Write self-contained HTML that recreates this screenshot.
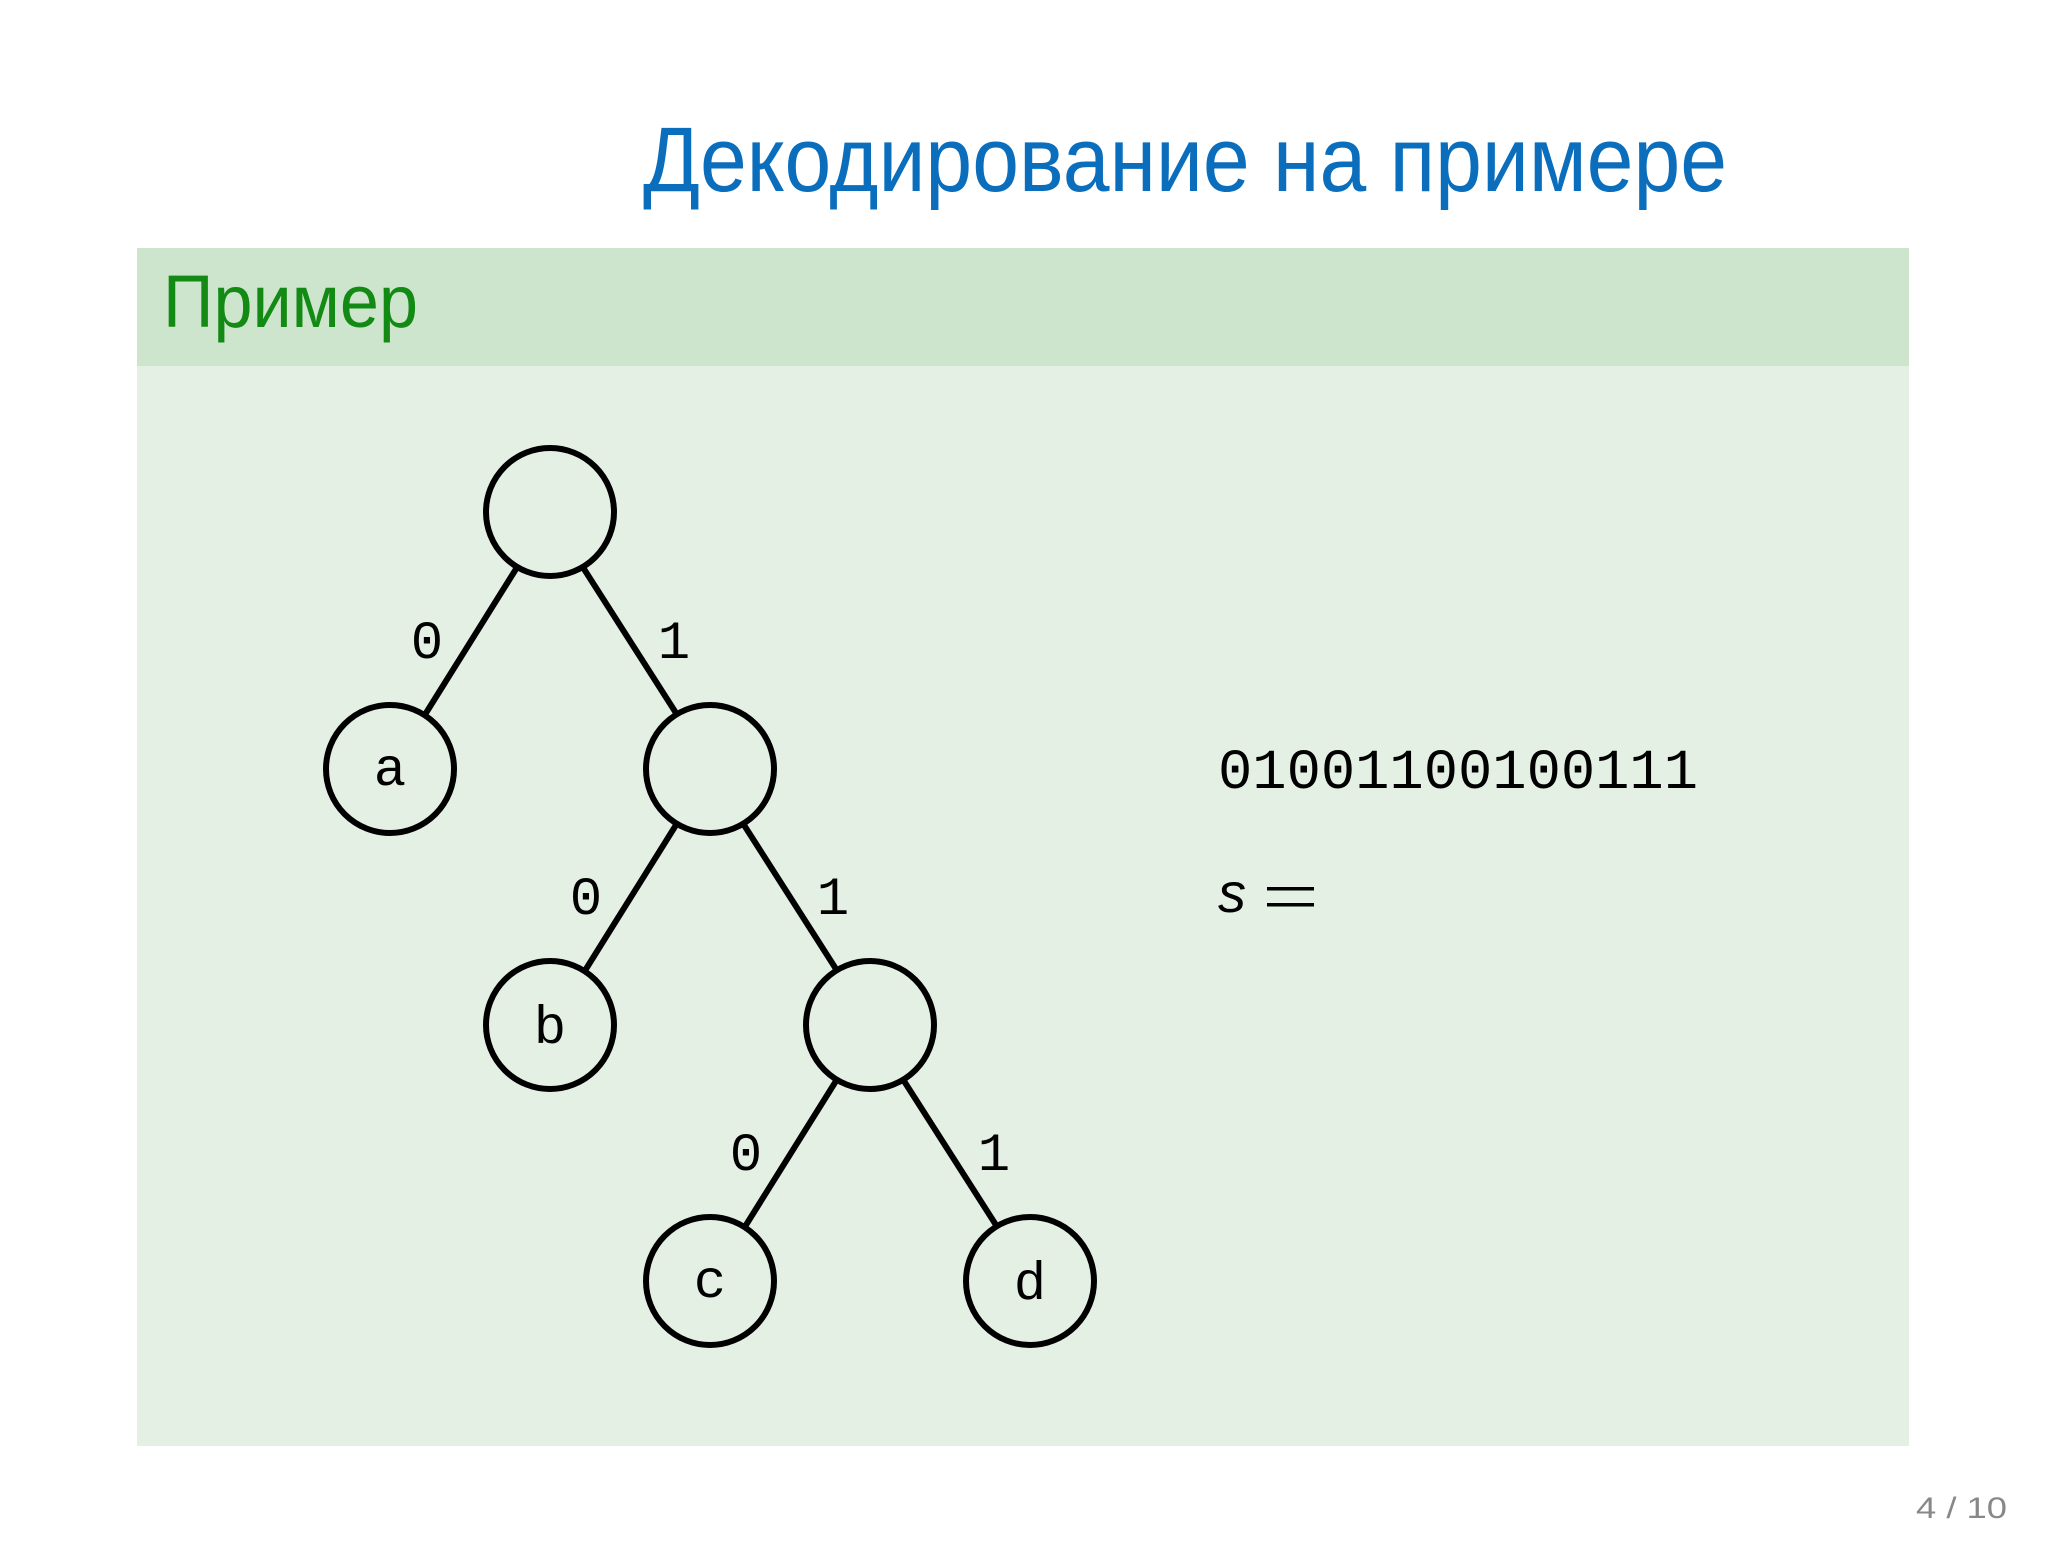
<!DOCTYPE html>
<html><head><meta charset="utf-8"><style>
html,body{margin:0;padding:0;background:#fff;}
body{width:2048px;height:1539px;position:relative;overflow:hidden;}
</style></head><body>
<svg width="2048" height="1539" viewBox="0 0 2048 1539" xmlns="http://www.w3.org/2000/svg">
<text x="643" y="191" font-family="Liberation Sans, DejaVu Sans, sans-serif" font-size="92" fill="#0a6ebd" textLength="1084" lengthAdjust="spacingAndGlyphs">Декодирование на примере</text>
<rect x="137" y="248" width="1772" height="118" fill="#cce5cc"/>
<rect x="137" y="366" width="1772" height="1080" fill="#e5f0e5"/>
<text x="163" y="327" font-family="Liberation Sans, DejaVu Sans, sans-serif" font-size="74" fill="#138a13" textLength="255" lengthAdjust="spacingAndGlyphs">Пример</text>
<g stroke="#000" stroke-width="6" fill="none">
<line x1="516" y1="569" x2="426" y2="713"/>
<line x1="584" y1="569" x2="676" y2="713"/>
<line x1="676" y1="825" x2="586" y2="969"/>
<line x1="744" y1="825" x2="836" y2="969"/>
<line x1="836" y1="1081" x2="746" y2="1225"/>
<line x1="904" y1="1081" x2="996" y2="1225"/>
<circle cx="550" cy="512" r="64"/>
<circle cx="390" cy="769" r="64"/>
<circle cx="710" cy="769" r="64"/>
<circle cx="550" cy="1025" r="64"/>
<circle cx="870" cy="1025" r="64"/>
<circle cx="710" cy="1281" r="64"/>
<circle cx="1030" cy="1281" r="64"/>
</g>
<g font-family="Liberation Mono, DejaVu Sans Mono, monospace" font-size="54" fill="#000" text-anchor="middle">
<text x="390" y="785">a</text>
<text x="550" y="1043">b</text>
<text x="710" y="1297">c</text>
<text x="1030" y="1299">d</text>
<text x="427" y="658">0</text>
<text x="674" y="658">1</text>
<text x="586" y="914">0</text>
<text x="833" y="914">1</text>
<text x="746" y="1170">0</text>
<text x="994" y="1170">1</text>
</g>
<text x="1218" y="788" font-family="Liberation Mono, DejaVu Sans Mono, monospace" font-size="57" fill="#000" textLength="480" lengthAdjust="spacingAndGlyphs">01001100100111</text>
<text x="1218" y="912" font-family="Liberation Sans, DejaVu Sans, sans-serif" font-style="italic" font-size="56" fill="#000">s</text>
<rect x="1267" y="887" width="47" height="3.5" fill="#000"/>
<rect x="1267" y="903" width="47" height="3.5" fill="#000"/>
<text x="1916" y="1518" font-family="Liberation Sans, DejaVu Sans, sans-serif" font-size="30" fill="#888" textLength="91" lengthAdjust="spacingAndGlyphs">4 / 10</text>
</svg>
</body></html>
